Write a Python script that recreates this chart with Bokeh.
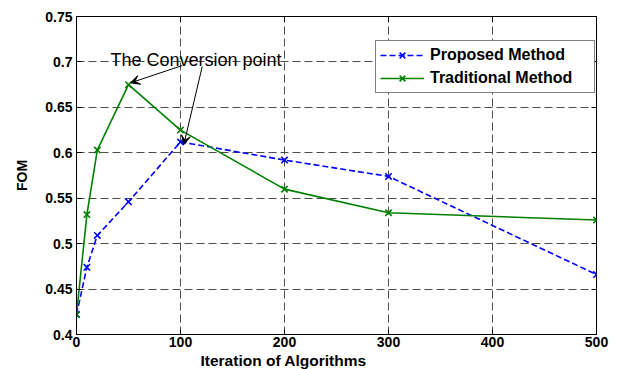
from bokeh.plotting import figure
from bokeh.models import (Range1d, FixedTicker, LinearAxis, Legend, LegendItem,
                          Label, Arrow, VeeHead, Title)
from bokeh.embed import file_html
from bokeh.resources import INLINE

# ---- data ----
iterations = [0, 10, 20, 50, 100, 200, 300, 500]
proposed = [0.422, 0.474, 0.509, 0.546, 0.612, 0.592, 0.574, 0.466]
traditional = [0.422, 0.532, 0.603, 0.675, 0.625, 0.560, 0.534, 0.526]

x_ticks = [0, 100, 200, 300, 400, 500]
x_tick_labels = ["0", "100", "200", "300", "400", "500"]
y_ticks = [0.4, 0.45, 0.5, 0.55, 0.6, 0.65, 0.7, 0.75]
y_tick_labels = ["0.4", "0.45", "0.5", "0.55", "0.6", "0.65", "0.7", "0.75"]

series_names = ["Proposed Method", "Traditional Method"]
annotation_text = "The Conversion point"
x_title = "Iteration of Algorithms"
y_title = "FOM"

FONT = "Liberation Sans"

p = figure(width=618, height=369, output_backend="svg", toolbar_location=None,
           x_range=Range1d(0, 500), y_range=Range1d(0.4, 0.75),
           min_border_left=76, min_border_right=22, min_border_top=16,
           min_border_bottom=35)
p.background_fill_color = "white"
p.border_fill_color = "white"
p.outline_line_color = "black"
p.outline_line_width = 1

# axes
for ax in (p.xaxis[0], p.yaxis[0]):
    ax.major_tick_in = 5
    ax.major_tick_out = 0
    ax.minor_tick_line_color = None
    ax.major_label_text_font = FONT
    ax.major_label_text_font_style = "bold"
    ax.major_label_text_font_size = "14px"
    ax.major_label_text_color = "black"
    ax.axis_label_text_font = FONT
    ax.axis_label_text_font_style = "bold"
    ax.axis_label_text_color = "black"
    ax.axis_line_color = "black"
    ax.major_tick_line_color = "black"

p.xaxis.ticker = FixedTicker(ticks=x_ticks)
p.xaxis.major_label_overrides = {t: l for t, l in zip(x_ticks, x_tick_labels)}
p.yaxis.ticker = FixedTicker(ticks=y_ticks)
p.yaxis.major_label_overrides = {t: l for t, l in zip(y_ticks, y_tick_labels)}

p.xaxis.major_label_standoff = 2

p.yaxis.axis_label = y_title
p.yaxis.axis_label_text_font_size = "14px"
p.yaxis.major_label_standoff = 4
p.yaxis.axis_label_standoff = 12

# box ticks on top and right (no labels)
top = LinearAxis(ticker=FixedTicker(ticks=x_ticks), major_tick_in=5, major_tick_out=0,
                 minor_tick_line_color=None,
                 major_label_overrides={t: "" for t in x_ticks},
                 major_label_standoff=0, axis_line_color=None,
                 major_tick_line_color="black")
right = LinearAxis(ticker=FixedTicker(ticks=y_ticks), major_tick_in=5, major_tick_out=0,
                   minor_tick_line_color=None,
                   major_label_overrides={t: "" for t in y_ticks},
                   major_label_standoff=0, axis_line_color=None,
                   major_tick_line_color="black")
p.add_layout(top, "above")
p.add_layout(right, "right")

# x-axis title, placed off-centre as in the original
p.add_layout(Title(text=x_title, align="left", offset=124, standoff=0,
                   text_font=FONT, text_font_style="bold", text_font_size="15.5px",
                   text_color="black"), "below")

# grid
p.xgrid.ticker = FixedTicker(ticks=x_ticks)
p.ygrid.ticker = FixedTicker(ticks=y_ticks)
for g in (p.xgrid[0], p.ygrid[0]):
    g.grid_line_color = "#4d4d4d"
    g.grid_line_dash = "8 4"
    g.grid_line_width = 1

# series
l1 = p.line(iterations, proposed, line_color="#0000ff", line_width=1.6, line_dash="6 3")
s1 = p.scatter(iterations, proposed, marker="x", size=9, line_color="#0000ff", line_width=1.6)
l2 = p.line(iterations, traditional, line_color="#008000", line_width=1.6)
s2 = p.scatter(iterations, traditional, marker="x", size=9, line_color="#008000", line_width=1.6)

legend = Legend(items=[LegendItem(label=series_names[0], renderers=[l1, s1]),
                       LegendItem(label=series_names[1], renderers=[l2, s2])],
                location=(299, 241), glyph_width=44, glyph_height=20, label_height=20,
                label_width=160, spacing=3, padding=4, label_standoff=6, margin=0,
                border_line_color="black", border_line_width=1,
                background_fill_color="white", background_fill_alpha=1.0,
                label_text_font=FONT, label_text_font_style="bold",
                label_text_font_size="16px", label_text_color="black")
p.add_layout(legend, "center")

# annotation
p.add_layout(Label(x=32.7, y=0.7016, text=annotation_text, text_font=FONT,
                   text_font_size="18px", text_baseline="alphabetic",
                   text_color="black"))
p.add_layout(Arrow(x_start=101.6, y_start=0.696, x_end=52, y_end=0.677,
                   line_color="black", line_width=1,
                   end=VeeHead(size=9, fill_color="black", line_color="black")))
p.add_layout(Arrow(x_start=120.9, y_start=0.695, x_end=103.2, y_end=0.609,
                   line_color="black", line_width=1,
                   end=VeeHead(size=9, fill_color="black", line_color="black")))

open("out.html", "w").write(file_html(p, INLINE))
